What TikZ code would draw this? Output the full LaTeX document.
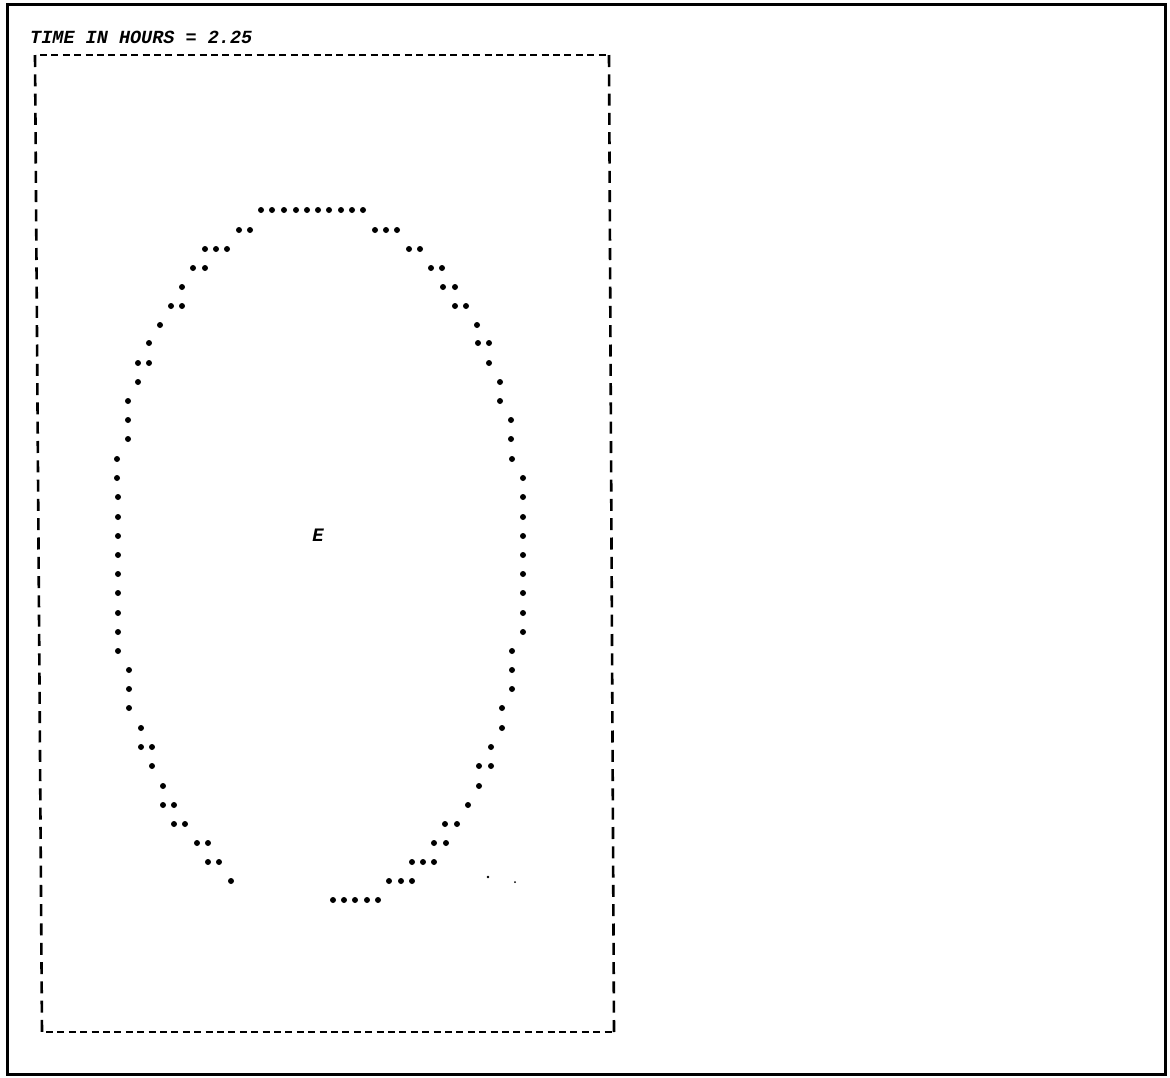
\documentclass[tikz,border=0pt]{standalone}
\usepackage{fontspec}
\newfontfamily\printfont{Liberation Mono}
\begin{document}
\begin{tikzpicture}[x=1pt,y=-1pt,
  star/.style={fill=black,draw=none},
  hdash/.style={line width=2.4pt,dash pattern=on 7pt off 4.4pt},
  vdash/.style={line width=2.6pt,dash pattern=on 12pt off 7.3pt},
  frame/.style={line width=3pt},
  lbl/.style={font=\printfont\bfseries\itshape\fontsize{18.5}{20}\selectfont,inner sep=0pt,text=black}]
\useasboundingbox (0,0) rectangle (1170,1077);
% outer frame
\draw[frame] (7,4) rectangle (1165,1074);
% dashed plot box
\coordinate (tl) at (35,55);
\coordinate (tr) at (609,55);
\coordinate (br) at (614,1032);
\coordinate (bl) at (42,1032);
\draw[hdash] (40,55) -- (606,55);
\draw[hdash] (46,1032) -- (612,1032);
\draw[vdash] (tl) -- (bl);
\draw[vdash] (tr) -- (br);
% title
\node[lbl,anchor=base west] (title) at (30,43) {TIME IN HOURS = 2.25};
% centre label
\node[lbl,font=\printfont\bfseries\itshape\fontsize{19}{20}\selectfont] (E) at (318,535) {E};
% stars
\foreach \y/\xs in {
 210/{261,272,284,296,307,318,329,341,352,363},
 230/{239,250,375,386,397},
 249/{205,216,227,409,420},
 268/{193,205,431,442},
 287/{182,443,455},
 306/{171,182,455,466},
 325/{160,477},
 343/{149,478,489},
 363/{138,149,489},
 382/{138,500},
 401/{128,500},
 420/{128,511},
 439/{128,511},
 459/{117,512},
 478/{117,523},
 497/{118,523},
 517/{118,523},
 536/{118,523},
 555/{118,523},
 574/{118,523},
 593/{118,523},
 613/{118,523},
 632/{118,523},
 651/{118,512},
 670/{129,512},
 689/{129,512},
 708/{129,502},
 728/{141,502},
 747/{141,152,491},
 766/{152,479,491},
 786/{163,479},
 805/{163,174,468},
 824/{174,185,445,457},
 843/{197,208,434,446},
 862/{208,219,412,423,434},
 881/{231,389,401,412},
 900/{333,344,355,367,378}}{
  \foreach \x in \xs {\fill[star] (\x,\y) circle (3);}
}
% specks
\fill (488,877) circle (1.3);
\fill (515,882) circle (1);
\end{tikzpicture}
\end{document}
